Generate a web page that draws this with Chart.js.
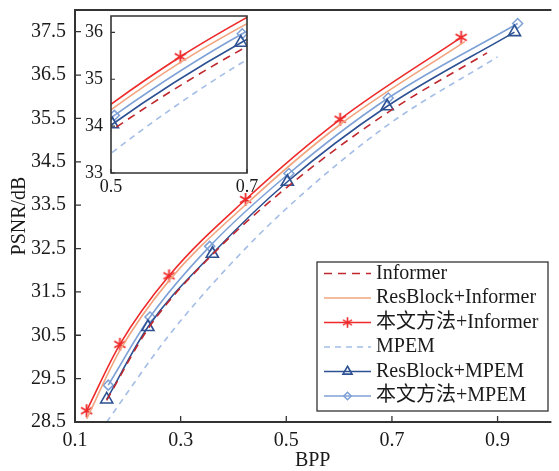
<!DOCTYPE html>
<html>
<head>
<meta charset="utf-8">
<script src="https://cdn.jsdelivr.net/npm/chart.js"></script>
<style>
  body { margin: 0; background: #fff; }
  #wrap { position: relative; width: 559px; height: 471px; }
  #main { position: absolute; left: 0; top: 0; }
  #inset { position: absolute; left: 78px; top: 6px; }
</style>
</head>
<body>
<div id="wrap">
  <canvas id="main" width="559" height="471"></canvas>
  <canvas id="inset" width="186" height="194"></canvas>
</div>
<script>
/* ---------- data ---------- */
const seriesNames = ['Informer', 'ResBlock+Informer', '本文方法+Informer', 'MPEM', 'ResBlock+MPEM', '本文方法+MPEM'];

const informerX      = [0.160, 0.240, 0.360, 0.500, 0.690, 0.880];
const informerY      = [29.00, 30.68, 32.36, 33.90, 35.62, 37.01];
const resInformerX   = [0.122, 0.185, 0.278, 0.423, 0.602, 0.838];
const resInformerY   = [28.57, 30.15, 31.76, 33.51, 35.36, 37.27];
const oursInformerX  = [0.122, 0.185, 0.278, 0.423, 0.602, 0.831];
const oursInformerY  = [28.76, 30.29, 31.87, 33.63, 35.48, 37.37];
const mpemX          = [0.160, 0.276, 0.390, 0.500, 0.690, 0.900];
const mpemY          = [28.50, 30.47, 32.08, 33.42, 35.33, 36.92];
const resMpemX       = [0.160, 0.238, 0.360, 0.502, 0.691, 0.932];
const resMpemY       = [29.02, 30.69, 32.38, 34.04, 35.78, 37.49];
const oursMpemX      = [0.163, 0.242, 0.355, 0.505, 0.693, 0.938];
const oursMpemY      = [29.35, 30.92, 32.55, 34.23, 35.97, 37.69];

const xTicks      = [0.1, 0.3, 0.5, 0.7, 0.9];
const yTicks      = [28.5, 29.5, 30.5, 31.5, 32.5, 33.5, 34.5, 35.5, 36.5, 37.5];
const insetXTicks = [0.5, 0.7];
const insetYTicks = [33, 34, 35, 36];

const SERIF = '"Liberation Serif", "Times New Roman", "Noto Sans CJK SC", serif';

function pts(xs, ys) {
    return xs.map((x, i) => ({ x: x, y: ys[i] }));
}

// asterisk marker (6 arms)
function makeStar(size, color, lw) {
    const c = document.createElement('canvas');
    c.width = c.height = size;
    const g = c.getContext('2d');
    g.strokeStyle = color;
    g.lineWidth = lw;
    const r = size / 2 - 1;
    g.beginPath();
    for (let k = 0; k < 3; k++) {
        const a = Math.PI / 2 + k * Math.PI / 3;
        g.moveTo(size / 2 + r * Math.cos(a), size / 2 + r * Math.sin(a));
        g.lineTo(size / 2 - r * Math.cos(a), size / 2 - r * Math.sin(a));
    }
    g.stroke();
    return c;
}
const starImg = makeStar(15, '#ee2a2a', 1.8);

function buildDatasets() {
    const base = { fill: false, cubicInterpolationMode: 'monotone', borderWidth: 1.6, pointRadius: 0 };
    return [
        { ...base, label: seriesNames[0], data: pts(informerX, informerY), borderColor: '#c1282e', borderDash: [8, 6] },
        { ...base, label: seriesNames[1], data: pts(resInformerX, resInformerY), borderColor: '#f2a47f' },
        { ...base, label: seriesNames[2], data: pts(oursInformerX, oursInformerY), borderColor: '#ee2a2a',
          pointStyle: starImg, pointRadius: 6, pointBorderColor: '#ee2a2a', pointBorderWidth: 1.5 },
        { ...base, label: seriesNames[3], data: pts(mpemX, mpemY), borderColor: '#a3bde6', borderDash: [6, 5] },
        { ...base, label: seriesNames[4], data: pts(resMpemX, resMpemY), borderColor: '#2d5193',
          pointStyle: 'triangle', pointRadius: 7, pointBorderColor: '#2d5193', pointBackgroundColor: 'rgba(0,0,0,0)', pointBorderWidth: 1.6 },
        { ...base, label: seriesNames[5], data: pts(oursMpemX, oursMpemY), borderColor: '#7ea1d6',
          pointStyle: 'rectRot', pointRadius: 5, pointBorderColor: '#7ea1d6', pointBackgroundColor: 'rgba(0,0,0,0)', pointBorderWidth: 1.5 }
    ];
}

/* ---------- plugins ---------- */
const frameTicks = {
    id: 'frameTicks',
    afterDatasetsDraw(chart, args, o) {
        const { ctx, chartArea: a, scales: { x, y } } = chart;
        ctx.save();
        ctx.strokeStyle = o.color;
        ctx.lineWidth = o.tickWidth;
        ctx.beginPath();
        x.ticks.forEach(t => {
            const px = x.getPixelForValue(t.value);
            ctx.moveTo(px, a.bottom);
            ctx.lineTo(px, a.bottom - o.len);
        });
        y.ticks.forEach(t => {
            const py = y.getPixelForValue(t.value);
            ctx.moveTo(a.left, py);
            ctx.lineTo(a.left + o.len, py);
        });
        ctx.stroke();
        ctx.lineWidth = o.width;
        ctx.lineCap = 'square';
        ctx.beginPath();
        ctx.moveTo(a.right, a.top);
        ctx.lineTo(a.left, a.top);
        ctx.lineTo(a.left, a.bottom);
        ctx.lineTo(a.right, a.bottom);
        if (o.closed) ctx.closePath();
        ctx.stroke();
        ctx.restore();
    }
};

const legendBox = {
    id: 'legendBox',
    afterDraw(chart, args, o) {
        const ctx = chart.ctx;
        ctx.save();
        ctx.fillStyle = '#fff';
        ctx.fillRect(o.x, o.y, o.w, o.h);
        ctx.strokeStyle = '#333';
        ctx.lineWidth = 1.3;
        ctx.strokeRect(o.x, o.y, o.w, o.h);
        chart.data.datasets.forEach((ds, i) => {
            const cy = o.y + o.first + i * o.step;
            const x0 = o.x + o.lineFrom, x1 = o.x + o.lineTo, cx = (x0 + x1) / 2;
            ctx.strokeStyle = ds.borderColor;
            ctx.lineWidth = ds.borderWidth;
            ctx.setLineDash(ds.borderDash || []);
            ctx.beginPath();
            ctx.moveTo(x0, cy);
            ctx.lineTo(x1, cy);
            ctx.stroke();
            ctx.setLineDash([]);
            if (ds.pointRadius > 0) {
                if (typeof ds.pointStyle === 'object') {
                    const w = ds.pointStyle.width * 0.8;
                    ctx.drawImage(ds.pointStyle, cx - w / 2, cy - w / 2, w, w);
                } else {
                    ctx.fillStyle = 'rgba(0,0,0,0)';
                    ctx.strokeStyle = ds.pointBorderColor;
                    ctx.lineWidth = ds.pointBorderWidth;
                    Chart.helpers.drawPoint(ctx, { pointStyle: ds.pointStyle, radius: ds.pointRadius * 0.75,
                        borderWidth: ds.pointBorderWidth, rotation: 0 }, cx, cy);
                }
            }
            ctx.fillStyle = '#1a1a1a';
            ctx.font = '20px ' + SERIF;
            ctx.textBaseline = 'middle';
            ctx.textAlign = 'left';
            ctx.fillText(ds.label, o.x + o.textX, cy);
        });
        ctx.restore();
    }
};

function setTicks(list) {
    return scale => { scale.ticks = list.map(v => ({ value: v })); };
}
function fixX(h) {
    return s => { s.height = h; s.paddingLeft = 0; s.paddingRight = 0; };
}
function fixY(w) {
    return s => { s.width = w; s.paddingTop = 0; s.paddingBottom = 0; };
}

/* ---------- main chart ---------- */
new Chart(document.getElementById('main'), {
    type: 'line',
    data: { datasets: buildDatasets() },
    options: {
        responsive: false,
        animation: false,
        layout: { padding: { top: 10, right: 0, left: 0, bottom: 0 } },
        plugins: {
            legend: { display: false },
            tooltip: { enabled: false },
            frameTicks: { color: '#333', len: 6, tickWidth: 1.3, width: 2, closed: false },
            legendBox: { x: 317, y: 262, w: 231, h: 149, first: 11.5, step: 24.5, lineFrom: 7, lineTo: 54, textX: 59 }
        },
        scales: {
            x: {
                type: 'linear', min: 0.1, max: 1.0,
                afterBuildTicks: setTicks(xTicks),
                afterFit: fixX(49),
                grid: { display: false },
                border: { display: false },
                ticks: { autoSkip: false, maxRotation: 0, padding: -1, color: '#1a1a1a',
                         font: { family: SERIF, size: 20 }, callback: v => v.toFixed(1) },
                title: { display: true, text: 'BPP', color: '#1a1a1a', padding: { top: 0, bottom: -2 },
                         font: { family: SERIF, size: 20 } }
            },
            y: {
                type: 'linear', min: 28.5, max: 38,
                afterBuildTicks: setTicks(yTicks),
                afterFit: fixY(75),
                grid: { display: false },
                border: { display: false },
                ticks: { autoSkip: false, padding: 1, color: '#1a1a1a',
                         font: { family: SERIF, size: 20 }, callback: v => v.toFixed(1) },
                title: { display: true, text: 'PSNR/dB', color: '#1a1a1a', padding: { top: 8, bottom: 0 },
                         font: { family: SERIF, size: 20 } }
            }
        }
    },
    plugins: [frameTicks, legendBox]
});

/* ---------- inset (zoom 0.5 - 0.7) ---------- */
new Chart(document.getElementById('inset'), {
    type: 'line',
    data: { datasets: buildDatasets() },
    options: {
        responsive: false,
        animation: false,
        layout: { padding: { top: 10, right: 17, left: 0, bottom: 0 } },
        plugins: {
            legend: { display: false },
            tooltip: { enabled: false },
            frameTicks: { color: '#333', len: 4, tickWidth: 1.2, width: 1.6, closed: true }
        },
        scales: {
            x: {
                type: 'linear', min: 0.5, max: 0.7,
                afterBuildTicks: setTicks(insetXTicks),
                afterFit: fixX(27),
                grid: { display: false },
                border: { display: false },
                ticks: { autoSkip: false, maxRotation: 0, padding: -5, color: '#1a1a1a',
                         font: { family: SERIF, size: 18 }, callback: v => v.toFixed(1) }
            },
            y: {
                type: 'linear', min: 33, max: 36.35,
                afterBuildTicks: setTicks(insetYTicks),
                afterFit: fixY(33),
                grid: { display: false },
                border: { display: false },
                ticks: { autoSkip: false, padding: 0, color: '#1a1a1a',
                         font: { family: SERIF, size: 18 }, callback: v => v.toFixed(0) }
            }
        }
    },
    plugins: [frameTicks]
});
</script>
</body>
</html>
